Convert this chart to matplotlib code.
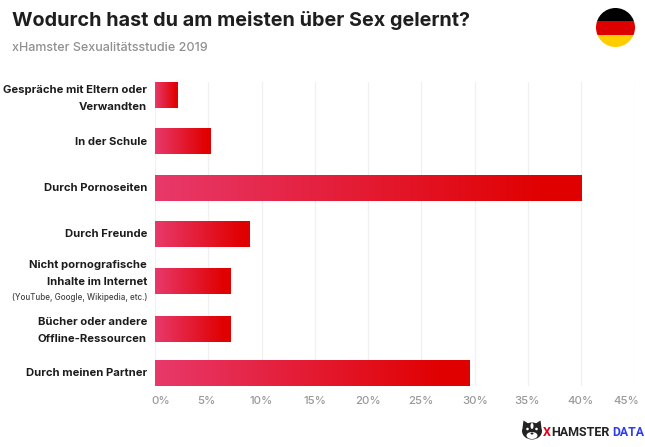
import matplotlib
matplotlib.use("Agg")
import matplotlib.pyplot as plt
from matplotlib.colors import LinearSegmentedColormap
from matplotlib.patches import Circle, Ellipse, Polygon, Rectangle
from matplotlib.transforms import ScaledTranslation
import numpy as np

TITLE = "Wodurch hast du am meisten über Sex gelernt?"
SUBTITLE = "xHamster Sexualitätsstudie 2019"

categories = [
    "Gespräche mit Eltern oder\nVerwandten",
    "In der Schule",
    "Durch Pornoseiten",
    "Durch Freunde",
    "Nicht pornografische\nInhalte im Internet",
    "Bücher oder andere\nOffline-Ressourcen",
    "Durch meinen Partner",
]
values = [2.1, 5.2, 40.0, 8.9, 7.1, 7.05, 29.5]
ticks = [0, 5, 10, 15, 20, 25, 30, 35, 40, 45]
tick_labels = ["0%", "5%", "10%", "15%", "20%", "25%", "30%", "35%", "40%", "45%"]

W, H = 645, 447
FONT = "Inter"
bar_cmap = LinearSegmentedColormap.from_list("bar", [(0, "#e8396b"), (0.92, "#e00000"), (1, "#e00000")])


def main():
    plt.rcParams["font.family"] = [FONT, "DejaVu Sans"]
    fig = plt.figure(figsize=(W / 100, H / 100), dpi=100, facecolor="white")

    # plot area in pixels of the reference: x 155-634.5, y 82-386
    ax = fig.add_axes([155 / W, 1 - 386 / H, 479.5 / W, 304 / H])
    draw_bars(ax)

    # overlay in image pixels for the header, labels, flag and logo
    over = fig.add_axes([0, 0, 1, 1], facecolor="none")
    over.set_xlim(0, W)
    over.set_ylim(H, 0)
    over.axis("off")
    draw_labels(over)
    draw_header(over)
    draw_flag(over)
    draw_logo(over)

    fig.savefig("out.png", dpi=100)


def draw_bars(ax):
    ys = np.arange(len(values), dtype=float)
    ys[5] += 0.04  # this bar sits slightly lower in the original
    bars = ax.barh(ys, values, height=0.56, color="#e00000", zorder=2)

    gradient = np.linspace(0, 1, 256).reshape(1, -1)
    for bar in bars:
        img = ax.imshow(gradient, cmap=bar_cmap, aspect="auto", zorder=3,
                        extent=(0, bar.get_width(), bar.get_y() + bar.get_height(), bar.get_y()))
        img.set_clip_path(bar)

    ax.set_xlim(0, 45)
    ax.set_ylim(6.27, -0.28)
    ax.set_xticks(ticks)
    ax.set_xticklabels(tick_labels, fontsize=8.2, color="#999999", fontweight="medium")
    ax.tick_params(axis="x", length=0, pad=7)
    ax.set_yticks([])
    ax.grid(axis="x", color="#f0f0f0", linewidth=0.9, zorder=0)
    ax.set_axisbelow(True)
    for s in ax.spines.values():
        s.set_visible(False)

    # the tick labels are not quite centred on the grid lines
    shifts = [6, -2, 0, 0, 0, 0, 1, -1, -1, -8]
    for lab, dx in zip(ax.get_xticklabels(), shifts):
        lab.set_transform(lab.get_transform() + ScaledTranslation(dx / 100, 0, ax.figure.dpi_scale_trans))


def draw_labels(over):
    # centre of each label block
    centers = [97.5, 141, 187, 233, 273, 329.5, 372]
    for cy, cat in zip(centers, categories):
        lines = cat.split("\n")
        for i, line in enumerate(lines):
            ly = cy + (i - (len(lines) - 1) / 2) * 16.8
            over.text(147, ly + 3.9, line, ha="right", va="baseline",
                      fontsize=8.1, fontweight="bold", color="#1c1c1c")
    over.text(147, 300, "(YouTube, Google, Wikipedia, etc.)", ha="right", va="baseline",
              fontsize=5.8, fontweight="medium", color="#444444")


def draw_header(over):
    over.text(12, 25.5, TITLE, fontsize=14.25, fontweight="bold", color="#1e1e1e", va="baseline", ha="left")
    over.text(12, 51, SUBTITLE, fontsize=9, fontweight="medium", color="#909090", va="baseline", ha="left")


def draw_flag(over):
    cx, cy, r = 615.5, 27.5, 19.5
    clip = Circle((cx, cy), r, transform=over.transData)
    for top, bottom, col in [(cy - r, 21, "#000000"), (21, 34.5, "#dd0000"), (34.5, cy + r, "#ffce00")]:
        rect = Rectangle((cx - r, top), 2 * r, bottom - top, facecolor=col, edgecolor="none")
        over.add_patch(rect)
        rect.set_clip_path(clip)


def draw_logo(over):
    # rough hamster head
    dark = "#222222"
    over.add_patch(Ellipse((532, 431), 20, 17, facecolor=dark, edgecolor="none"))
    over.add_patch(Polygon([(522.5, 428), (523.5, 420.5), (529, 424)], facecolor=dark, edgecolor="none"))
    over.add_patch(Polygon([(541.5, 428), (540.5, 420.5), (535, 424)], facecolor=dark, edgecolor="none"))
    over.add_patch(Ellipse((532, 435.5), 11, 7, facecolor="white", edgecolor="none"))
    over.add_patch(Ellipse((532, 426), 3, 6, facecolor="white", edgecolor="none"))
    over.add_patch(Circle((527.5, 429), 1.3, facecolor="white", edgecolor="none"))
    over.add_patch(Circle((536.5, 429), 1.3, facecolor="white", edgecolor="none"))
    over.add_patch(Ellipse((532, 433.5), 3, 2, facecolor=dark, edgecolor="none"))

    logo_font = ["Roboto", "DejaVu Sans"]
    over.text(543, 435.5, "X", fontsize=9, fontweight="bold", family=logo_font, color="#e3001b", va="baseline", ha="left")
    over.text(551.5, 435.5, "HAMSTER", fontsize=9, fontweight="bold", family=logo_font, color=dark, va="baseline", ha="left")
    over.text(612, 435.5, "DATA", fontsize=8.8, fontweight="bold", family=logo_font, color="#2b3df0", va="baseline", ha="left")


if __name__ == "__main__":
    main()
